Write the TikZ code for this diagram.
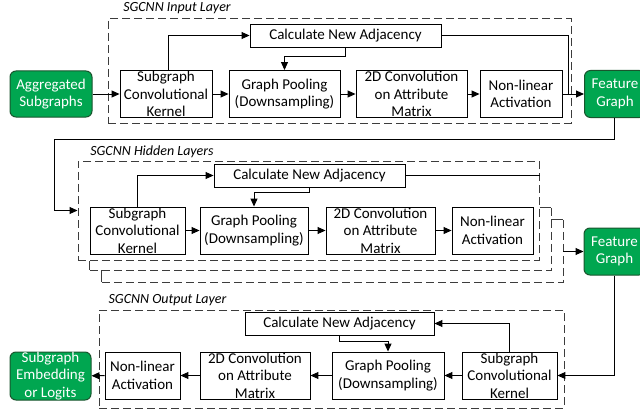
\documentclass[tikz,border=0pt]{standalone}
\usepackage{fontspec}
\setmainfont{Carlito}
\usetikzlibrary{arrows.meta}
\definecolor{gfill}{RGB}{0,166,80}
\definecolor{gdraw}{RGB}{25,85,45}
\definecolor{dashc}{RGB}{60,60,60}
\begin{document}
\begin{tikzpicture}[x=1pt,y=-1pt,
  every node/.style={font=\fontsize{15}{17.5}\selectfont, inner sep=0pt, align=center},
  blk/.style={draw, line width=0.9pt, fill=white, minimum height=47},
  gbox/.style={draw=gdraw, line width=1pt, fill=gfill, text=white, rounded corners=6pt, minimum height=47},
  layer/.style={draw=dashc, line width=1pt, dash pattern=on 8pt off 4pt, fill=white},
  back/.style={fill=white, minimum width=461, minimum height=62},
  dsh/.style={draw=dashc, line width=1pt, dash pattern=on 8pt off 4pt},
  sld/.style={draw=dashc, line width=1pt},
  ttl/.style={font=\fontsize{14}{17}\selectfont\itshape},
  arr/.style={line width=1pt, -{Triangle[length=8pt,width=7pt]}},
  ln/.style={line width=1pt}]
\clip (0,0) rectangle (640,412);
\useasboundingbox (0,0) rectangle (640,412);

% ---------- Input layer ----------
\node[ttl] (t1) at (177,8) {SGCNN Input Layer};
\node[layer, minimum width=463, minimum height=104] (L1) at (339.5,71) {};
\node[gbox, minimum width=82, minimum height=46] (agg) at (51,94) {Aggregated\\Subgraphs};
\node[blk, minimum width=92] (k1) at (166,94) {Subgraph\\Convolutional\\Kernel};
\node[blk, minimum width=111] (p1) at (284.5,94) {Graph Pooling\\(Downsampling)};
\node[blk, minimum width=111] (c1) at (411.5,94) {2D Convolution\\on Attribute\\Matrix};
\node[blk, minimum width=82] (n1) at (521,94) {Non-linear\\Activation};
\node[blk, minimum width=191, minimum height=23] (a1) at (345.5,35.5) {Calculate New Adjacency};
\node[gbox, minimum width=61] (f1) at (615,94) {Feature\\Graph};
\coordinate (j1) at (568,94);

\draw[arr] (agg) -- (k1);
\draw[arr] (k1) -- (p1);
\draw[arr] (p1) -- (c1);
\draw[arr] (c1) -- (n1);
\draw[arr] (n1) -- (f1);
\draw[arr] ([xshift=2pt]k1.north) |- (a1.west);
\draw[arr] (a1.south) -- ++(0,9) -| (p1.north);
\draw[ln] (a1.east) -| (j1);

% ---------- Hidden layers ----------
\node[ttl] (t2) at (152,152) {SGCNN Hidden Layers};
\node[back] (B3) at (332.5,251) {};
\node[back] (B2) at (320.5,239) {};
\node[layer, minimum width=461, minimum height=99] (L2) at (308.5,210.5) {};
\draw[sld] (B3.north east -| B2.east) -- (B3.north east);
\draw[dsh] (B3.north east) -- (B3.south east) -- (B3.south west);
\draw[sld] (B3.south west) -- (B3.south west |- B2.south);
\draw[sld] (B2.north east -| L2.east) -- (B2.north east);
\draw[dsh] (B2.north east) -- (B2.south east) -- (B2.south west);
\draw[sld] (B2.south west) -- (B2.south west |- L2.south);

\node[blk, minimum width=95] (k2) at (137.5,230.5) {Subgraph\\Convolutional\\Kernel};
\node[blk, minimum width=108] (p2) at (254,230.5) {Graph Pooling\\(Downsampling)};
\node[blk, minimum width=109] (c2) at (380.5,230.5) {2D Convolution\\on Attribute\\Matrix};
\node[blk, minimum width=81] (n2) at (492.5,230.5) {Non-linear\\Activation};
\node[blk, minimum width=191, minimum height=23] (a2) at (309.5,175.5) {Calculate New Adjacency};
\node[gbox, minimum width=61] (f2) at (614.5,251.5) {Feature\\Graph};
\coordinate (tl) at (54,139);

\draw[ln] ([xshift=-1pt]f1.south) |- (tl);
\draw[arr] (tl) |- (L2.west);
\draw[arr] (k2) -- (p2);
\draw[arr] (p2) -- (c2);
\draw[arr] (c2) -- (n2);
\draw[arr] (k2.north) |- (a2.west);
\draw[arr] (a2.south) -- ++(0,5) -| (p2.north);
\draw[ln] (a2.east) -- (a2.east -| L2.east);
\draw[arr] (f2.west -| B3.east) -- (f2.west);

% ---------- Output layer ----------
\node[ttl] (t3) at (167.5,300) {SGCNN Output Layer};
\node[layer, minimum width=465, minimum height=98] (L3) at (331.5,359) {};
\node[gbox, minimum width=81, minimum height=48] (emb) at (50.5,376) {Subgraph\\Embedding\\or Logits};
\node[blk, minimum width=75] (n3) at (142.5,375.5) {Non-linear\\Activation};
\node[blk, minimum width=110] (c3) at (255,375.5) {2D Convolution\\on Attribute\\Matrix};
\node[blk, minimum width=112] (p3) at (388,375.5) {Graph Pooling\\(Downsampling)};
\node[blk, minimum width=95] (k3) at (509.5,375.5) {Subgraph\\Convolutional\\Kernel};
\node[blk, minimum width=189, minimum height=23] (a3) at (339.5,323.5) {Calculate New Adjacency};

\draw[arr] (f2.south) |- (k3.east);
\draw[arr] (k3) -- (p3);
\draw[arr] (p3) -- (c3);
\draw[arr] (c3) -- (n3);
\draw[arr] (n3) -- (emb);
\draw[arr] (k3.north) |- (a3.east);
\draw[arr] (a3.south) -- ++(0,6) -| (p3.north);
\end{tikzpicture}
\end{document}
